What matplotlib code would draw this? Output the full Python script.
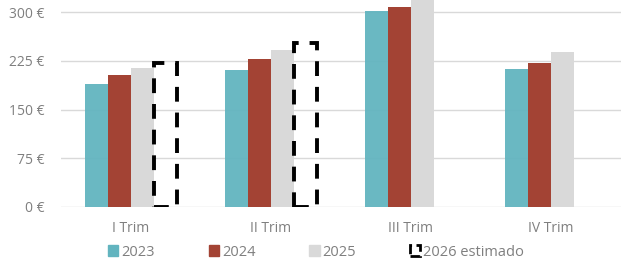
import numpy as np
import matplotlib.pyplot as plt
from matplotlib.patches import Patch

# Datos
trimestres = ["I Trim", "II Trim", "III Trim", "IV Trim"]
v2023 = [190, 211, 302, 213]
v2024 = [203, 228, 308, 221]
v2025 = [214, 241, 330, 238]
v2026 = [222, 252, np.nan, np.nan]
ticks_y = [0, 75, 150, 225, 300]

plt.rcParams['font.family'] = ['Open Sans', 'DejaVu Sans']

fig = plt.figure(figsize=(6.26, 2.63), dpi=100)
ax = fig.add_axes([61/626, 1-207/263, 560/626, 207/263])

x = np.arange(len(trimestres))
w = 0.164
gris = "#7f7f7f"

ax.bar(x - 1.5*w, v2023, w, color="#62b4bf", alpha=0.95, zorder=2)
ax.bar(x - 0.5*w, v2024, w, color="#a34334", zorder=2)
ax.bar(x + 0.5*w, v2025, w, color="#d9d9d9", zorder=2)
ax.bar(x + 1.5*w, v2026, w, fill=False, edgecolor="black", linewidth=2.8,
       linestyle=(0, (3.8, 2.8)), zorder=3)

ax.set_xlim(-0.5, 3.5)
ax.set_ylim(0, 207/0.65)
ax.set_yticks(ticks_y)
ax.set_yticklabels([f"{t} €" for t in ticks_y])
ax.set_xticks(x)
ax.set_xticklabels(trimestres)
ax.grid(axis="y", color="#d9d9d9", linewidth=1, zorder=0)
ax.set_axisbelow(True)
for s in ax.spines.values():
    s.set_visible(False)
ax.tick_params(axis="both", length=0, colors=gris, labelsize=10)
ax.tick_params(axis="x", pad=10)
ax.tick_params(axis="y", pad=12)

handles = [
    Patch(color="#62b4bf", label="2023"),
    Patch(color="#a34334", label="2024"),
    Patch(color="#d9d9d9", label="2025"),
    Patch(fill=False, edgecolor="black", linewidth=2, linestyle="--", label="2026 estimado"),
]
leg = fig.legend(handles=handles, loc="center", bbox_to_anchor=(0.505, 11/263),
                 ncol=4, frameon=False, fontsize=10.5, handlelength=0.7, handleheight=0.7,
                 handletextpad=0.2, columnspacing=3.7)
for t in leg.get_texts():
    t.set_color(gris)

fig.savefig("out.png", dpi=100)
